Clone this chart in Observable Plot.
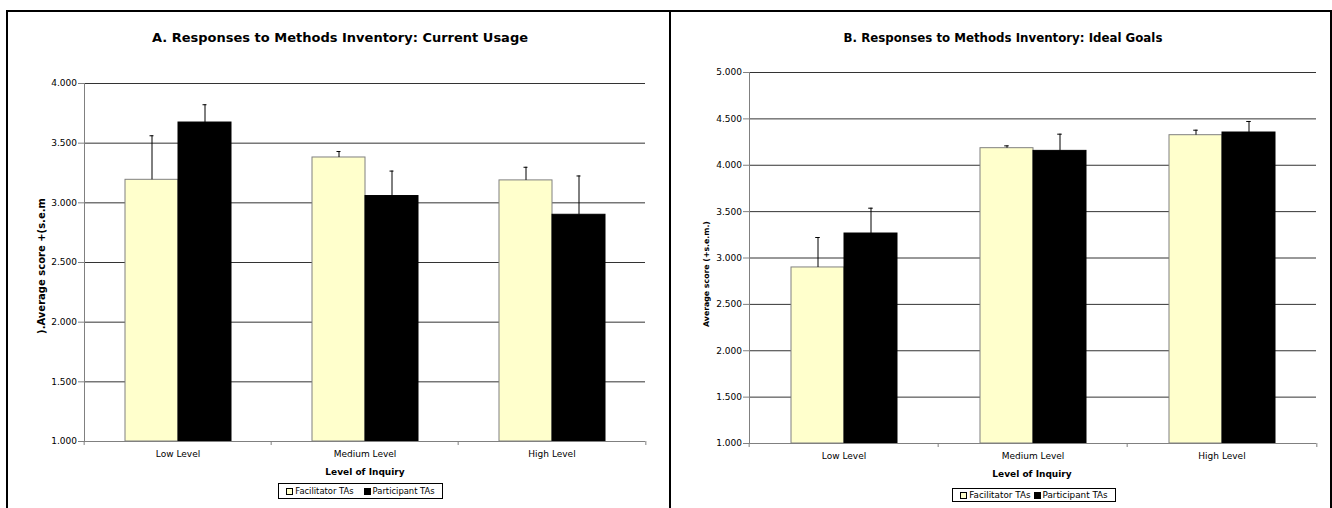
<!DOCTYPE html>
<html>
<head>
<meta charset="utf-8">
<script src="https://cdn.jsdelivr.net/npm/d3@7"></script>
<script src="https://cdn.jsdelivr.net/npm/@observablehq/plot@0.6"></script>
<style>
  html, body { margin: 0; padding: 0; background: #fff; }
  body { width: 1332px; height: 508px; overflow: hidden; position: relative; font-family: "DejaVu Sans", Verdana, sans-serif; color: #000; }
  .line { position: absolute; background: #000; }
  .title { position: absolute; text-align: center; font-weight: bold; line-height: 16px; white-space: nowrap; }
  .ylab { position: absolute; font-weight: bold; white-space: nowrap; transform: translate(-50%, -50%) rotate(-90deg); line-height: 1; }
  .xlab { position: absolute; font-weight: bold; font-size: 9px; white-space: nowrap; transform: translate(-50%, -50%); line-height: 1; }
  .legend { position: absolute; box-sizing: border-box; border: 1px solid #000; background: #fff; display: flex; align-items: center; justify-content: center; white-space: nowrap; line-height: 1; }
  .sw { display: inline-block; width: 5px; height: 5px; border: 1px solid #000; margin-right: 2px; }
  .chart svg { position: absolute; }
</style>
</head>
<body>
<div class="line" style="left:6px;top:10px;width:1326px;height:2px;"></div>
<div class="line" style="left:6px;top:10px;width:2px;height:498px;"></div>
<div class="line" style="left:669px;top:10px;width:2px;height:498px;"></div>
<div class="line" style="left:1330px;top:10px;width:2px;height:498px;"></div>
<div id="chartA" class="chart"></div>
<div id="chartB" class="chart"></div>
<script>
// ---------- data ----------
const levels = ["Low Level", "Medium Level", "High Level"];
const groups = ["Facilitator TAs", "Participant TAs"];

// Panel A: Current Usage
const usageFacilitator    = [3.193, 3.380, 3.188];
const usageFacilitatorSem = [0.369, 0.050, 0.110];
const usageParticipant    = [3.673, 3.057, 2.900];
const usageParticipantSem = [0.149, 0.209, 0.325];
const usageTicks = [1.0, 1.5, 2.0, 2.5, 3.0, 3.5, 4.0];

// Panel B: Ideal Goals
const goalsFacilitator    = [2.898, 4.184, 4.324];
const goalsFacilitatorSem = [0.323, 0.025, 0.054];
const goalsParticipant    = [3.264, 4.155, 4.353];
const goalsParticipantSem = [0.273, 0.180, 0.119];
const goalsTicks = [1.0, 1.5, 2.0, 2.5, 3.0, 3.5, 4.0, 4.5, 5.0];

const titleA = "A. Responses to Methods Inventory: Current Usage";
const titleB = "B. Responses to Methods Inventory: Ideal Goals";
const yLabelA = ").Average score +(s.e.m";
const yLabelB = "Average score (+s.e.m.)";
const xLabel = "Level of Inquiry";

function rows(fac, facSem, par, parSem) {
  return levels.flatMap((level, i) => [
    {level, group: groups[0], value: fac[i], sem: facSem[i]},
    {level, group: groups[1], value: par[i], sem: parSem[i]}
  ]);
}

function chart({data, ticks, width, height, ml, mr, mt, mb, padOuter, fontSize}) {
  const step = (width - ml - mr) / levels.length;
  const bw = step / (2 + 2 * padOuter);
  const cap = (bw - 5) / 2;
  const base = ticks[0];
  const fac = data.filter(d => d.group === groups[0]);
  const par = data.filter(d => d.group === groups[1]);
  return Plot.plot({
    width, height,
    marginLeft: ml, marginRight: mr, marginTop: mt, marginBottom: mb,
    style: {fontFamily: "DejaVu Sans, Verdana, sans-serif", fontSize: fontSize + "px", background: "transparent", color: "#000", overflow: "visible"},
    fx: {domain: levels, padding: 0, label: null},
    x: {domain: groups, paddingInner: 0, paddingOuter: padOuter, align: 0.5, axis: null, label: null},
    y: {domain: [base, ticks[ticks.length - 1]], label: null},
    marks: [
      Plot.ruleY(ticks.slice(1), {stroke: "#333", strokeWidth: 1}),
      Plot.barY(fac, {fx: "level", x: "group", y1: base, y2: "value", fill: "#FFFFCC", stroke: "#808080", strokeWidth: 1}),
      Plot.barY(par, {fx: "level", x: "group", y1: base, y2: "value", fill: "#000", stroke: "#000", strokeWidth: 1}),
      Plot.ruleX(data, {fx: "level", x: "group", y1: "value", y2: d => d.value + d.sem, stroke: "#000", strokeWidth: 1}),
      Plot.tickY(data, {fx: "level", x: "group", y: d => d.value + d.sem, insetLeft: cap, insetRight: cap, stroke: "#000", strokeWidth: 1}),
      Plot.ruleY([base], {stroke: "#808080", strokeWidth: 1}),
      Plot.frame({anchor: "left", facetAnchor: "left", stroke: "#808080"}),
      Plot.axisY({ticks, anchor: "left", tickSize: 6, tickPadding: 1.5, tickFormat: d3.format(".3f"), stroke: "#808080", label: null}),
      Plot.axisFx({anchor: "bottom", tickSize: 0, tickPadding: 9, label: null}),
      Plot.axisFx({anchor: "bottom", tickSize: 4, tickPadding: 0, tickFormat: () => "", dx: -step / 2, stroke: "#808080", label: null}),
      Plot.axisFx({anchor: "bottom", ticks: [levels[levels.length - 1]], tickSize: 4, tickPadding: 0, tickFormat: () => "", dx: step / 2, stroke: "#808080", label: null})
    ]
  });
}

function legendHTML(left, top, w, h, fs, gap) {
  return `<div class="legend" style="left:${left}px;top:${top}px;width:${w}px;height:${h}px;font-size:${fs}px;">
    <span class="sw" style="background:#FFFFCC"></span><span>${groups[0]}</span>
    <span style="display:inline-block;width:${gap}px"></span>
    <span class="sw" style="background:#000"></span><span>${groups[1]}</span></div>`;
}

// Panel A
const svgA = chart({
  data: rows(usageFacilitator, usageFacilitatorSem, usageParticipant, usageParticipantSem),
  ticks: usageTicks, width: 670, height: 508, ml: 83, mr: 24, mt: 83, mb: 67, padOuter: 0.737, fontSize: 9
});
svgA.style.left = "0px"; svgA.style.top = "0px";
const A = document.getElementById("chartA");
A.appendChild(svgA);
A.insertAdjacentHTML("beforeend",
  `<div class="title" style="left:0px;top:30px;width:680px;font-size:13px;">${titleA}</div>
   <div class="ylab" style="left:42px;top:266px;font-size:10px;">${yLabelA}</div>
   <div class="xlab" style="left:365px;top:472px;">${xLabel}</div>` +
  legendHTML(278, 483, 165, 16, 8.4, 10));

// Panel B
const svgB = chart({
  data: rows(goalsFacilitator, goalsFacilitatorSem, goalsParticipant, goalsParticipantSem),
  ticks: goalsTicks, width: 662, height: 508, ml: 78, mr: 15, mt: 72, mb: 65, padOuter: 0.774, fontSize: 9
});
svgB.style.left = "670px"; svgB.style.top = "0px";
const B = document.getElementById("chartB");
B.appendChild(svgB);
B.insertAdjacentHTML("beforeend",
  `<div class="title" style="left:668px;top:30px;width:670px;font-size:11.8px;">${titleB}</div>
   <div class="ylab" style="left:707px;top:274px;font-size:7.8px;">${yLabelB}</div>
   <div class="xlab" style="left:1032px;top:474px;">${xLabel}</div>` +
  legendHTML(952, 488, 164, 14, 8.8, 3));
</script>
</body>
</html>
